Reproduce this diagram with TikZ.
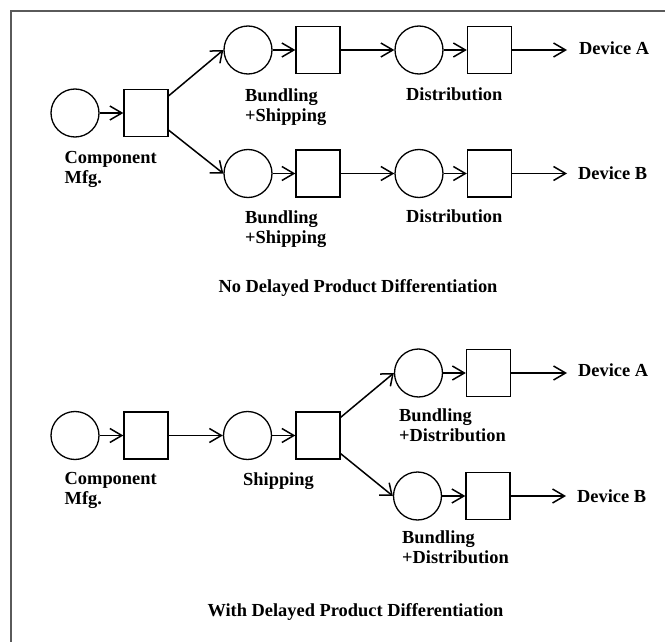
\documentclass[tikz,border=0pt]{standalone}
\usepackage{fontspec}
\setmainfont{Liberation Serif}
\usetikzlibrary{arrows.meta}
\definecolor{framegray}{HTML}{5A5A5A}
\tikzset{
  place/.style={circle, draw, line width=1.3pt, minimum size=48pt, inner sep=0pt},
  trans/.style={rectangle, draw, line width=1.3pt, minimum width=44pt, minimum height=47pt, inner sep=0pt},
  flow/.style={line width=1.5pt, -{Straight Barb[length=12pt,width=14pt]}},
  fork/.style={line width=1.5pt, -{Straight Barb[length=10pt,width=16pt]}},
  txt/.style={inner sep=0pt, font=\fontsize{18.4}{20}\selectfont\bfseries},
  lbl/.style={txt, anchor=north west, align=left},
  dev/.style={txt, anchor=west},
  ttl/.style={txt, anchor=base},
}
\begin{document}
\begin{tikzpicture}[x=1pt, y=-1pt]
\useasboundingbox (0,0) rectangle (665,642);
% frame
\draw[framegray, line width=2.3pt] (10.8,642) -- (10.8,10.8) -- (665,10.8);

% ---------- without delayed differentiation ----------
\node[place] (pm) at (75,113) {};
\node[trans] (tm) at (146,113) {};
\node[place] (pa1) at (248,50) {};
\node[trans] (ta1) at (318,50) {};
\node[place] (pa2) at (419,50) {};
\node[trans] (ta2) at (489.5,50) {};
\node[place] (pb1) at (248,173.5) {};
\node[trans] (tb1) at (318,173.5) {};
\node[place] (pb2) at (419,173.5) {};
\node[trans] (tb2) at (489.5,173.5) {};
\node[dev] (da) at (579,48.5) {Device A};
\node[dev] (db) at (578,173.5) {Device B};

\draw[flow] (pm) -- (tm);
\draw[fork] ([yshift=-7pt]tm.north east) -- (pa1.west);
\draw[fork] ([yshift=7pt]tm.south east) -- (pb1.west);
\draw[flow] (pa1) -- (ta1);
\draw[flow] (ta1) -- (pa2);
\draw[flow] (pa2) -- (ta2);
\draw[flow] (ta2.east) -- ([xshift=-12pt]ta2.east -| da.west);
\draw[flow] (pb1) -- (tb1);
\draw[flow] (tb1) -- (pb2);
\draw[flow] (pb2) -- (tb2);
\draw[flow] (tb2.east) -- ([xshift=-11pt]tb2.east -| db.west);

\node[lbl] (lm) at (64.5,151) {Component\\Mfg.};
\node[lbl] (la1) at (245,88.5) {Bundling\\+Shipping};
\node[lbl] (lb1) at (245,211) {Bundling\\+Shipping};
\node[lbl] (la2) at (406,88) {Distribution};
\node[lbl] (lb2) at (406,209.5) {Distribution};
\node[ttl] (t1) at (358,292) {No Delayed Product Differentiation};

% ---------- with delayed differentiation ----------
\node[place] (qm) at (75,435.5) {};
\node[trans] (sm) at (146,435.5) {};
\node[place] (qs) at (247.5,435.5) {};
\node[trans] (ss) at (318,435.5) {};
\node[place] (qa) at (418.5,373) {};
\node[trans] (sa) at (488.5,373) {};
\node[place] (qb) at (417.5,496) {};
\node[trans] (sb) at (488,496) {};
\node[dev] (ea) at (578,370.5) {Device A};
\node[dev] (eb) at (577,496) {Device B};

\draw[flow] (qm) -- (sm);
\draw[flow] (sm) -- (qs);
\draw[flow] (qs) -- (ss);
\draw[fork] ([yshift=-6pt]ss.north east) -- (qa.west);
\draw[fork] ([yshift=6pt]ss.south east) -- (qb.west);
\draw[flow] (qa) -- (sa);
\draw[flow] (sa.east) -- ([xshift=-11pt]sa.east -| ea.west);
\draw[flow] (qb) -- (sb);
\draw[flow] (sb.east) -- ([xshift=-11pt]sb.east -| eb.west);

\node[lbl] (nm) at (64.5,472.5) {Component\\Mfg.};
\node[lbl] (ns) at (243,472.5) {Shipping};
\node[lbl] (na) at (399,408.5) {Bundling\\+Distribution};
\node[lbl] (nb) at (402,530.5) {Bundling\\+Distribution};
\node[ttl] (t2) at (355.5,616.5) {With Delayed Product Differentiation};
\end{tikzpicture}
\end{document}
